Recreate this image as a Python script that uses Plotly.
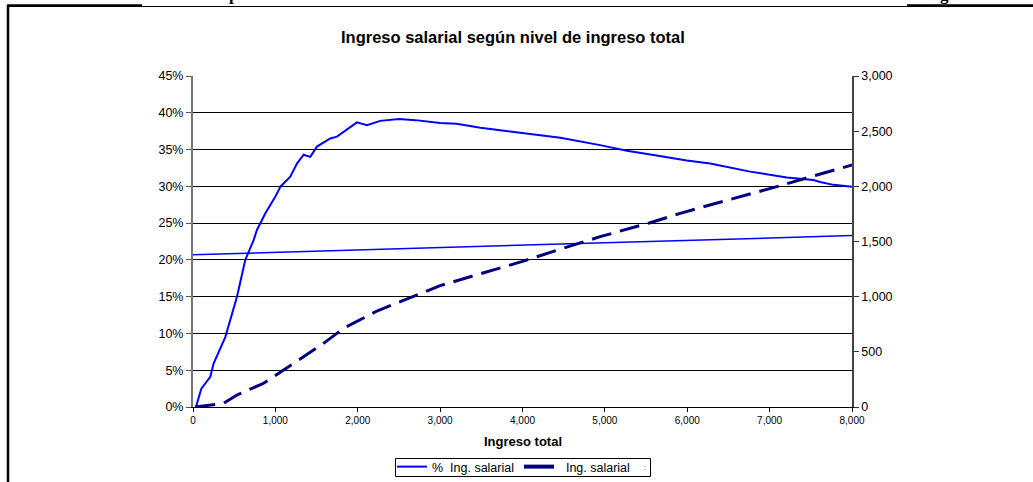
import plotly.graph_objects as go

# ---- data ----
pct_x = [36, 101, 210, 250, 392, 534, 635, 736, 777, 877, 1000, 1061, 1181, 1262,
         1343, 1424, 1505, 1666, 1748, 1869, 1990, 2112, 2273, 2500, 2700, 3000,
         3200, 3490, 4000, 4460, 4943, 5267, 5590, 5995, 6278, 6764, 7209, 7532,
         7613, 7775, 8000]
pct_y = [0.0, 2.5, 4.1, 5.9, 9.5, 15.0, 20.0, 22.7, 24.1, 26.3, 28.6, 29.95, 31.3, 33.1,
         34.3, 34.0, 35.4, 36.5, 36.75, 37.7, 38.7, 38.3, 38.9, 39.15, 39.0, 38.6,
         38.5, 37.95, 37.25, 36.6, 35.6, 34.85, 34.26, 33.5, 33.1, 32.0, 31.2, 30.85,
         30.6, 30.2, 29.95]

sal_x = [28, 250, 371, 534, 857, 1100, 1342, 1585, 1828, 2070, 2233, 3000, 3500,
         4000, 4500, 4943, 5550, 5914, 6318, 6723, 7087, 7532, 8000]
sal_y = [0, 18, 33, 109, 215, 335, 456, 577, 713, 804, 870, 1100, 1210,
         1320, 1440, 1544, 1670, 1755, 1840, 1921, 1997, 2094, 2193]

trend_x = [0, 8000]
trend_y = [20.7, 23.3]

x_ticks = [0, 1000, 2000, 3000, 4000, 5000, 6000, 7000, 8000]
y_ticks = [0, 5, 10, 15, 20, 25, 30, 35, 40, 45]
y2_ticks = [0, 500, 1000, 1500, 2000, 2500, 3000]

title_text = "Ingreso salarial según nivel de ingreso total"
x_title = "Ingreso total"
name_pct = "%\u00a0\u00a0Ing. salarial"
name_sal = "\u00a0\u00a0Ing. salarial"

FONT = "Liberation Sans, Arial, sans-serif"

fig = go.Figure()
fig.add_trace(go.Scatter(x=pct_x, y=pct_y, mode="lines", name=name_pct,
                         line=dict(color="#0000FF", width=2)))
fig.add_trace(go.Scatter(x=sal_x, y=sal_y, mode="lines", name=name_sal, yaxis="y2",
                         showlegend=False, legendgroup="sal",
                         line=dict(color="#000080", width=3, dash="20px,9px")))
# legend sample for the dashed series (solid bar, like the reference legend)
fig.add_trace(go.Scatter(x=[None], y=[None], mode="lines", name=name_sal, yaxis="y2",
                         legendgroup="sal",
                         line=dict(color="#000080", width=4)))
fig.add_trace(go.Scatter(x=trend_x, y=trend_y, mode="lines", showlegend=False,
                         line=dict(color="#0000FF", width=1.5)))

L, R, T, B = 193, 852, 76, 407
W, H = 1033, 482
pw, ph = R - L, B - T


def px(x):
    return (x - L) / pw


def py(y):
    return (B - y) / ph


shapes = [
    # thin top border of chart frame
    dict(type="line", xref="paper", yref="paper", x0=px(7), x1=px(1033), y0=py(6.5), y1=py(6.5),
         line=dict(color="black", width=1)),
    # thick left border
    dict(type="line", xref="paper", yref="paper", x0=px(8), x1=px(8), y0=py(5), y1=py(482),
         line=dict(color="black", width=2.5)),
    # thick segments at top
    dict(type="line", xref="paper", yref="paper", x0=px(7), x1=px(142), y0=py(5.5), y1=py(5.5),
         line=dict(color="black", width=2.5)),
    dict(type="line", xref="paper", yref="paper", x0=px(907), x1=px(1033), y0=py(5.5), y1=py(5.5),
         line=dict(color="black", width=2.5)),
    # legend frame
    dict(type="rect", xref="paper", yref="paper", x0=px(395.5), x1=px(650.5),
         y0=py(458.5), y1=py(476.5), line=dict(color="black", width=1),
         fillcolor="rgba(0,0,0,0)"),
]

annotations = [
    dict(text=title_text, xref="paper", yref="paper", x=px(513), y=py(37), showarrow=False,
         font=dict(family=FONT, size=16.5, color="black", weight="bold"),
         xanchor="center", yanchor="middle"),
    dict(text=x_title, xref="paper", yref="paper", x=px(523), y=py(441), showarrow=False,
         font=dict(family=FONT, size=13, color="black", weight="bold"),
         xanchor="center", yanchor="middle"),
    dict(text=":", xref="paper", yref="paper", x=px(645), y=py(467), showarrow=False,
         font=dict(family=FONT, size=7, color="black"), xanchor="center", yanchor="middle"),
    dict(text="p", xref="paper", yref="paper", x=px(233), y=py(-6), showarrow=False,
         font=dict(family="Liberation Serif, serif", size=17, color="black", weight="bold"),
         xanchor="center", yanchor="middle"),
    dict(text="g", xref="paper", yref="paper", x=px(944), y=py(-6), showarrow=False,
         font=dict(family="Liberation Serif, serif", size=17, color="black", weight="bold"),
         xanchor="center", yanchor="middle"),
]

fig.update_layout(
    width=W, height=H,
    margin=dict(l=L, r=W - R, t=T, b=H - B, pad=0, autoexpand=False),
    paper_bgcolor="white", plot_bgcolor="white",
    font=dict(family=FONT, size=11, color="black"),
    showlegend=True,
    legend=dict(orientation="h", x=px(392), xanchor="left", y=py(467), yanchor="middle",
                borderwidth=0, bgcolor="rgba(0,0,0,0)",
                font=dict(family=FONT, size=12.5, color="black"),
                itemwidth=30, tracegroupgap=0),
    xaxis=dict(range=[0, 8000], tickvals=x_ticks,
               ticktext=[f"{v:,}" for v in x_ticks],
               tickfont=dict(size=10), ticks="outside", ticklen=4, tickcolor="black",
               showline=True, linecolor="black", linewidth=1,
               showgrid=False, zeroline=False, fixedrange=True),
    yaxis=dict(range=[0, 45], tickvals=y_ticks,
               ticktext=[f"{v}%" for v in y_ticks],
               tickfont=dict(size=12.5), ticks="outside", ticklen=5, tickcolor="#555",
               showline=True, linecolor="#777", linewidth=2,
               showgrid=True, gridcolor="black", gridwidth=1, zeroline=False),
    yaxis2=dict(range=[0, 3000], tickvals=y2_ticks,
                ticktext=[f"{v:,}" for v in y2_ticks], overlaying="y", side="right",
                tickfont=dict(size=12.5), ticks="outside", ticklen=5, tickcolor="#333",
                showline=True, linecolor="#444", linewidth=1.5,
                showgrid=False, zeroline=False),
    shapes=shapes,
    annotations=annotations,
)

fig.write_html("out.html")
